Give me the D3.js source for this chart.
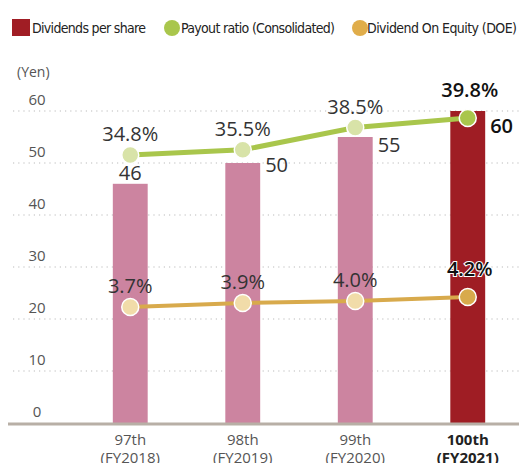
<!DOCTYPE html>
<html>
<head>
<meta charset="utf-8">
<script src="https://d3js.org/d3.v7.min.js"></script>
<style>
body { margin: 0; background: #fff; }
svg { display: block; font-family: 'Open Sans', 'DejaVu Sans', sans-serif; }
.legend text { font-family: 'DejaVu Sans', sans-serif; font-stretch: condensed; font-size: 14px; fill: #222; }
</style>
</head>
<body>
<svg id="chart"></svg>
<script>
// data
var periods = ["97th", "98th", "99th", "100th"];
var fiscal = ["(FY2018)", "(FY2019)", "(FY2020)", "(FY2021)"];
var dividends = [46, 50, 55, 60];
var payout = [34.8, 35.5, 38.5, 39.8];
var doe = [3.7, 3.9, 4.0, 4.2];
var yTicks = [0, 10, 20, 30, 40, 50, 60];

var width = 519, height = 463;
var svg = d3.select("#chart").attr("width", width).attr("height", height);

var x = d3.scaleBand().domain(periods).range([74, 524]).paddingInner(0.69).paddingOuter(0.345);
var y = d3.scaleLinear().domain([0, 60]).range([423, 111]);
var yPay = d3.scaleLinear().domain([0, 50]).range([412.5, 42.5]);
var yDoe = d3.scaleLinear().domain([0, 5]).range([381, 281]);
var cx = function(i) { return x(periods[i]) + x.bandwidth() / 2; };
var last = periods.length - 1;

// grid
svg.append("g").selectAll("line").data(yTicks.slice(1)).join("line")
	.attr("x1", 13).attr("x2", width)
	.attr("y1", d => y(d)).attr("y2", d => y(d))
	.attr("stroke", "#bbb").attr("stroke-width", 1.2)
	.attr("stroke-dasharray", "1.2,4");

// y tick labels (above grid lines)
svg.append("g").selectAll("text").data(yTicks).join("text")
	.attr("x", 37).attr("y", d => y(d) - 6)
	.attr("text-anchor", "middle")
	.style("font-size", "15px").style("fill", "#555")
	.text(d => d);

svg.append("text").attr("x", 17).attr("y", 77)
	.style("font-size", "14px").style("fill", "#555").text("(Yen)");

// bars
svg.append("g").selectAll("rect").data(dividends).join("rect")
	.attr("x", (d, i) => x(periods[i]))
	.attr("width", x.bandwidth())
	.attr("y", d => y(d))
	.attr("height", d => y(0) - y(d))
	.attr("fill", (d, i) => i == last ? "#9f1d24" : "#cc84a0");

// baseline
svg.append("line").attr("x1", 8).attr("x2", width)
	.attr("y1", y(0) + 1).attr("y2", y(0) + 1)
	.attr("stroke", "#b8afa6").attr("stroke-width", 3);

// x labels
var xl = svg.append("g").selectAll("text").data(periods).join("text")
	.attr("text-anchor", "middle")
	.style("font-size", "15px")
	.style("fill", (d, i) => i == last ? "#222" : "#555")
	.style("font-weight", (d, i) => i == last ? "bold" : "normal");
xl.append("tspan").attr("x", (d, i) => cx(i)).attr("y", 445).text(d => d);
xl.append("tspan").attr("x", (d, i) => cx(i)).attr("y", 463).text((d, i) => fiscal[i]);

// bar value labels
svg.append("g").selectAll("text").data(dividends).join("text")
	.attr("x", (d, i) => i == 0 ? cx(i) : x(periods[i]) + x.bandwidth() + 5)
	.attr("y", (d, i) => i == 0 ? y(d) - 4 : y(d) + [0, 9, 15, 22][i])
	.attr("text-anchor", (d, i) => i == 0 ? "middle" : "start")
	.style("font-size", "20px")
	.style("fill", (d, i) => i == last ? "#111" : "#333")
	.style("font-weight", (d, i) => i == last ? "600" : "normal")
	.text(d => d);

// lines
function drawSeries(vals, scale, lineColor, lw, lightFill, darkFill) {
	var line = d3.line().x((d, i) => cx(i)).y(d => scale(d));
	svg.append("path").datum(vals).attr("d", line)
		.attr("fill", "none").attr("stroke", lineColor).attr("stroke-width", lw);
	svg.append("g").selectAll("circle").data(vals).join("circle")
		.attr("cx", (d, i) => cx(i)).attr("cy", d => scale(d))
		.attr("r", 8.5)
		.attr("fill", (d, i) => i == last ? darkFill : lightFill)
		.attr("stroke", "#fff").attr("stroke-width", 1.5);
	svg.append("g").selectAll("text").data(vals).join("text")
		.attr("x", (d, i) => cx(i) + (i == last ? 2 : 0))
		.attr("y", (d, i) => scale(d) - (i == last ? 21 : 14))
		.attr("text-anchor", "middle")
		.style("font-size", "20px")
		.style("fill", (d, i) => i == last ? "#111" : "#333")
		.style("font-weight", (d, i) => i == last ? "600" : "normal")
		.style("paint-order", "stroke")
		.style("stroke", (d, i) => i == last ? "#fff" : "none")
		.style("stroke-width", 2)
		.text(d => d.toFixed(1) + "%");
}
drawSeries(payout, yPay, "#a9c64c", 5, "#d8e3a8", "#a9c64c");
drawSeries(doe, yDoe, "#d8aa4c", 4, "#f1dca9", "#d8aa4c");

// legend
var lg = svg.append("g").attr("class", "legend");
lg.append("rect").attr("x", 12).attr("y", 19).attr("width", 18).attr("height", 17).attr("fill", "#a01d24");
lg.append("text").attr("x", 32).attr("y", 33).attr("textLength", 114).text("Dividends per share");
lg.append("circle").attr("cx", 172).attr("cy", 28).attr("r", 8).attr("fill", "#a9c64c");
lg.append("text").attr("x", 181).attr("y", 33).attr("textLength", 154).text("Payout ratio (Consolidated)");
lg.append("circle").attr("cx", 360).attr("cy", 28).attr("r", 8).attr("fill", "#e0ad4a");
lg.append("text").attr("x", 367).attr("y", 33).attr("textLength", 150).text("Dividend On Equity (DOE)");
</script>
</body>
</html>
